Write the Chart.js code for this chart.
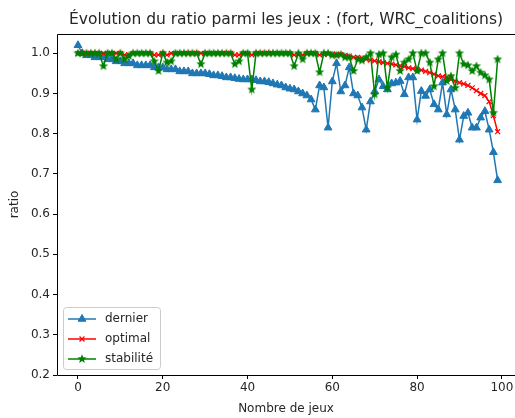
<!DOCTYPE html>
<html>
<head>
<meta charset="utf-8">
<script src="https://cdn.jsdelivr.net/npm/chart.js@4/dist/chart.umd.min.js"></script>
<style>
  html, body { margin: 0; padding: 0; background: #fff; }
  #wrap { width: 515px; height: 418px; }
</style>
</head>
<body>
<div id="wrap"><canvas id="ratioChart" width="515" height="418"></canvas></div>
<script>
// valeurs
const jeux = Array.from({ length: 100 }, (_, i) => i);

const dernier = [
  1.02, 1.0, 0.995, 0.995, 0.99, 0.99, 0.99, 0.985, 0.985, 0.98,
  0.98, 0.975, 0.975, 0.975, 0.97, 0.97, 0.97, 0.97, 0.965, 0.965,
  0.965, 0.96, 0.96, 0.96, 0.955, 0.955, 0.955, 0.95, 0.95, 0.95,
  0.95, 0.948, 0.945, 0.945, 0.943, 0.94, 0.94, 0.938, 0.936, 0.935,
  0.935, 0.935, 0.933, 0.93, 0.93, 0.928, 0.925, 0.922, 0.92, 0.915,
  0.912, 0.91, 0.905, 0.9, 0.895, 0.885, 0.86, 0.92, 0.915, 0.815,
  0.93, 0.975, 0.905, 0.92, 0.965, 0.9, 0.895, 0.865, 0.81, 0.88,
  0.905, 0.935, 0.918, 0.91, 0.925, 0.927, 0.931, 0.898, 0.94, 0.94,
  0.835, 0.906, 0.894, 0.91, 0.873, 0.86, 0.927, 0.848, 0.91, 0.86,
  0.785, 0.844, 0.852, 0.815, 0.815, 0.84, 0.856, 0.81, 0.754, 0.684
];

const optimal = [
  1.0, 1.0, 1.0, 1.0, 1.0, 1.0, 1.0, 1.0, 1.0, 1.0,
  1.0, 0.996, 0.996, 1.0, 1.0, 1.0, 1.0, 1.0, 0.996, 0.996,
  1.0, 0.996, 1.0, 1.0, 1.0, 1.0, 1.0, 1.0, 1.0, 1.0,
  1.0, 1.0, 1.0, 1.0, 1.0, 1.0, 1.0, 0.996, 0.996, 1.0,
  1.0, 0.996, 1.0, 1.0, 1.0, 1.0, 1.0, 1.0, 1.0, 1.0,
  1.0, 0.996, 0.996, 0.996, 1.0, 1.0, 1.0, 0.996, 0.998, 0.998,
  0.998, 0.998, 0.997, 0.995, 0.993, 0.99, 0.99, 0.988, 0.985, 0.983,
  0.981, 0.979, 0.977, 0.975, 0.973, 0.971, 0.969, 0.967, 0.964, 0.962,
  0.96, 0.958, 0.955, 0.952, 0.948, 0.944, 0.942, 0.94, 0.935, 0.931,
  0.927, 0.924, 0.92, 0.914, 0.907, 0.9, 0.895, 0.88, 0.845, 0.805
];

const stabilite = [
  1.0, 1.0, 1.0, 1.0, 1.0, 1.0, 0.968, 1.0, 1.0, 0.985,
  1.0, 0.985, 0.993, 1.0, 1.0, 1.0, 1.0, 1.0, 0.98, 0.956,
  1.0, 0.977, 0.98, 1.0, 1.0, 1.0, 1.0, 1.0, 1.0, 0.973,
  1.0, 1.0, 1.0, 1.0, 1.0, 1.0, 1.0, 0.973, 0.98, 1.0,
  1.0, 0.91, 1.0, 1.0, 1.0, 1.0, 1.0, 1.0, 1.0, 1.0,
  1.0, 0.968, 1.0, 0.985, 1.0, 1.0, 1.0, 0.953, 1.0, 1.0,
  0.995, 0.995, 0.997, 0.99, 0.99, 0.956, 0.985, 0.982, 0.99, 1.0,
  0.898, 0.997, 1.0, 0.914, 0.99, 0.997, 0.956, 0.977, 0.985, 1.0,
  0.956, 1.0, 1.0, 0.977, 0.918, 0.985, 1.0, 0.931, 0.943, 0.914,
  1.0, 0.973, 0.97, 0.956, 0.968, 0.952, 0.945, 0.935, 0.852, 0.985
];

const xTicks = [0, 20, 40, 60, 80, 100];
const yTicks = [0.2, 0.3, 0.4, 0.5, 0.6, 0.7, 0.8, 0.9, 1.0];

const TITRE = 'Évolution du ratio parmi les jeux : (fort, WRC_coalitions)';
const FONT = 'DejaVu Sans';
const TXT = '#262626';

// marqueur étoile pleine façon matplotlib '*'
function makeStar(color, rOut, rIn) {
  const s = Math.ceil(rOut * 2 + 2);
  const c = document.createElement('canvas');
  c.width = s; c.height = s;
  const g = c.getContext('2d');
  g.translate(s / 2, s / 2);
  g.beginPath();
  for (let k = 0; k < 10; k++) {
    const r = k % 2 === 0 ? rOut : rIn;
    const a = -Math.PI / 2 + k * Math.PI / 5;
    g.lineTo(r * Math.cos(a), r * Math.sin(a));
  }
  g.closePath();
  g.fillStyle = color;
  g.fill();
  return c;
}
const star = makeStar('#008000', 4.8, 2.1);

const series = [
  { label: 'dernier', data: dernier, color: '#1f77b4', style: 'triangle', radius: 4.5, order: 3 },
  { label: 'optimal', data: optimal, color: '#ff0000', style: 'crossRot', radius: 3.5, order: 2 },
  { label: 'stabilité', data: stabilite, color: '#008000', style: star, radius: 4, order: 1 }
];

const datasets = series.map(s => ({
  label: s.label,
  data: jeux.map((x, i) => ({ x: x, y: s.data[i] })),
  borderColor: s.color,
  backgroundColor: s.color,
  borderWidth: 1.5,
  pointStyle: s.style,
  pointRadius: s.radius,
  pointBorderWidth: s.style === 'crossRot' ? 1.2 : 1,
  pointBorderColor: s.color,
  pointBackgroundColor: s.color,
  tension: 0,
  fill: false,
  order: s.order
}));

// titre centré sur la zone de tracé, cadre et légende en bas à gauche
const cadre = {
  id: 'cadre',
  afterDraw(chart) {
    const { ctx, chartArea: a } = chart;
    ctx.save();
    ctx.fillStyle = TXT;
    ctx.font = '15.5px ' + FONT;
    ctx.textAlign = 'center';
    ctx.textBaseline = 'middle';
    ctx.fillText(TITRE, (a.left + a.right) / 2, 20);

    ctx.strokeStyle = '#000';
    ctx.lineWidth = 1;
    ctx.beginPath();
    ctx.moveTo(a.right + 2, a.top + 0.5);
    ctx.lineTo(a.left + 0.5, a.top + 0.5);
    ctx.lineTo(a.left + 0.5, a.bottom + 0.5);
    ctx.lineTo(a.right + 2, a.bottom + 0.5);
    ctx.stroke();

    // légende
    const bx = a.left + 6, by = a.bottom - 68, bw = 97, bh = 62;
    ctx.fillStyle = 'rgba(255,255,255,0.8)';
    ctx.strokeStyle = '#cccccc';
    ctx.beginPath();
    ctx.roundRect(bx + 0.5, by + 0.5, bw, bh, 3);
    ctx.fill();
    ctx.stroke();
    ctx.font = '12px ' + FONT;
    ctx.textAlign = 'left';
    series.forEach((s, i) => {
      const y = by + 12 + i * 20;
      ctx.strokeStyle = s.color;
      ctx.lineWidth = 1.5;
      ctx.beginPath();
      ctx.moveTo(bx + 5, y);
      ctx.lineTo(bx + 33, y);
      ctx.stroke();
      ctx.fillStyle = s.color;
      ctx.strokeStyle = s.color;
      ctx.lineWidth = s.style === 'crossRot' ? 1.2 : 1;
      Chart.helpers.drawPoint(ctx, { pointStyle: s.style, radius: s.radius, rotation: 0, borderWidth: 1 }, bx + 19, y);
      ctx.fillStyle = TXT;
      ctx.fillText(s.label, bx + 42, y);
    });
    ctx.restore();
  }
};

new Chart(document.getElementById('ratioChart'), {
  type: 'line',
  data: { datasets: datasets },
  plugins: [cadre],
  options: {
    responsive: false,
    animation: false,
    layout: { autoPadding: false, padding: { left: 0, right: 0, top: 34, bottom: 0 } },
    plugins: {
      legend: { display: false },
      tooltip: { enabled: false },
      title: { display: false }
    },
    scales: {
      x: {
        type: 'linear',
        min: -4.95,
        max: 103.1,
        afterBuildTicks: s => { s.ticks = xTicks.map(v => ({ value: v })); },
        afterFit: s => { s.height = 43; s.paddingLeft = 0; s.paddingRight = 0; },
        grid: { drawOnChartArea: false, drawTicks: true, tickLength: 4, color: '#000' },
        border: { display: false },
        ticks: { color: TXT, font: { family: FONT, size: 12 }, padding: 2, maxRotation: 0 },
        title: { display: true, text: 'Nombre de jeux', color: TXT, font: { family: FONT, size: 12 }, padding: { top: 1, bottom: 2 } }
      },
      y: {
        min: 0.2,
        max: 1.048,
        afterBuildTicks: s => { s.ticks = yTicks.map(v => ({ value: v })); },
        afterFit: s => { s.width = 57; s.paddingTop = 0; s.paddingBottom = 0; },
        grid: { drawOnChartArea: false, drawTicks: true, tickLength: 4, color: '#000' },
        border: { display: false },
        ticks: { color: TXT, font: { family: FONT, size: 12 }, padding: 3, callback: v => v.toFixed(1) },
        title: { display: true, text: 'ratio', color: TXT, font: { family: FONT, size: 12 }, padding: { top: 8, bottom: 0 } }
      }
    }
  }
});
</script>
</body>
</html>
